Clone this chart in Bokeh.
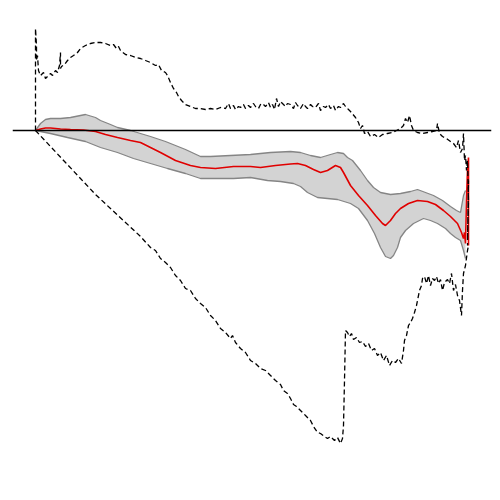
from bokeh.plotting import figure
from bokeh.models import Range1d, Span
from bokeh.embed import file_html
from bokeh.resources import INLINE

# Upper dashed envelope
upper_x = [35,35,36,36,37,38,40,43,45,47,50,52,55,57,59,60,60,61,64,67,70,73,77,80,85,90,95,100,105,110,113,116,118,120,125,130,135,140,145,150,155,158,161,165,167,170,173,176,178,181,185,190,195,200,205,210,215,220,225,228,230,233,235,238,240,243,245,248,250,253,255,258,260,262,265,268,270,272,274,276,278,280,282,285,287,290,293,295,297,300,303,305,307,310,312,315,318,320,323,325,328,330,333,335,338,340,343,345,348,350,355,358,360,362,364,367,370,374,378,382,387,392,396,400,403,405,407,409,411,413,417,422,427,432,436,437,439,442,446,450,453,456,458,460,462,463,464,465,466,467,468,467,468,467]
upper_y = [0,102,85,70,75,60,55,58,52,54,57,55,60,58,65,78,62,64,66,70,73,75,78,82,85,87,88,88,87,85,86,82,84,80,76,75,73,72,70,68,65,66,60,58,55,48,42,38,34,30,26,24,22,22,21,22,21,23,22,27,22,25,21,24,23,26,22,25,23,27,24,22,26,27,24,28,23,26,21,32,24,29,27,24,27,26,22,28,25,22,27,24,22,26,24,23,27,20,24,23,26,22,25,20,24,23,27,24,21,19,13,8,2,5,-3,-1,-6,-4,-7,-4,-3,-2,0,2,5,12,8,15,5,0,-2,-3,-2,-1,0,7,-3,-6,-8,-11,-13,-17,-10,-22,-18,-3,-30,-25,-40,-30,-70,-110,-50,-115]

# Lower dashed envelope
lower_x = [35,50,65,80,95,110,125,140,150,155,160,165,170,175,180,185,190,195,200,205,210,215,220,225,230,232,235,240,245,250,255,260,265,270,275,280,283,287,290,293,296,300,305,310,313,317,320,324,327,330,334,337,340,342,343,344,345,347,349,351,353,356,359,362,365,368,371,374,377,380,383,386,389,392,395,398,401,403,404,406,408,410,412,414,416,418,419,421,422,424,426,428,430,432,434,436,438,440,442,444,447,449,451,453,455,457,459,461,462,463,465,467,468]
lower_y = [0,-16,-32,-48,-64,-78,-92,-106,-117,-120,-128,-132,-137,-145,-150,-158,-160,-168,-173,-177,-185,-190,-198,-202,-208,-205,-212,-218,-222,-230,-233,-238,-240,-245,-250,-254,-260,-263,-268,-274,-276,-280,-285,-290,-296,-302,-303,-306,-308,-306,-310,-307,-313,-308,-295,-250,-200,-202,-206,-203,-209,-207,-212,-211,-216,-213,-220,-218,-225,-222,-230,-225,-235,-230,-232,-228,-233,-220,-210,-205,-195,-192,-188,-182,-175,-165,-160,-155,-148,-146,-153,-145,-155,-148,-150,-146,-153,-149,-160,-152,-149,-153,-143,-160,-154,-165,-170,-185,-160,-143,-135,-120,-115]

# Central estimate (red)
mid_x = [35,40,45,50,60,70,83,95,105,117,130,140,150,160,175,190,200,215,233,250,260,275,290,297,305,313,320,327,335,340,343,350,358,367,375,382,385,390,395,400,408,417,427,435,443,450,457,461,463,464,465,466,467,468,468]
mid_y = [0,1.5,2.5,2.5,1.5,1,0.5,-1,-4,-7,-10,-12,-17,-22,-30,-35,-37,-38,-36,-36,-37,-35,-33.5,-33,-35,-39,-42,-40,-35,-37,-42,-55,-65,-75,-85,-93,-95,-90,-83,-78,-73,-70,-71,-74,-80,-86,-93,-102,-108,-102,-113,-70,-40,-27,-115]

# Confidence band
band_hi_x = [35,40,45,50,60,70,80,85,95,100,110,117,130,150,165,175,185,200,210,230,250,270,290,300,310,320,330,337,343,347,352,360,367,373,380,390,400,410,417,425,433,442,450,456,460,463,465]
band_hi_y = [0,7,11,12,12,13,15,16,13,10,6,3,0,-6,-11,-15,-19,-26,-26,-25,-24,-22,-21,-22,-25,-27,-24,-22,-23,-27,-30,-40,-50,-57,-62,-64,-63,-61,-59,-62,-65,-70,-76,-80,-82,-65,-60]
band_lo_x = [35,50,67,85,100,117,133,150,167,185,200,233,250,267,280,293,300,307,317,327,337,350,358,367,374,380,385,390,393,397,400,405,413,423,430,437,445,450,455,460,463,465]
band_lo_y = [0,-3,-7,-11,-17,-22,-28,-33,-38,-43,-48,-48,-47,-50,-51,-53,-56,-62,-67,-68,-69,-73,-78,-90,-103,-117,-126,-128,-125,-117,-107,-100,-93,-88,-90,-93,-98,-103,-107,-110,-120,-128]

p = figure(width=492, height=492, output_backend="svg", toolbar_location=None,
           x_range=Range1d(12, 491), y_range=Range1d(-362, 122),
           x_axis_location=None, y_axis_location=None,
           min_border_left=12, min_border_right=1, min_border_top=8, min_border_bottom=0)
p.grid.visible = False
p.outline_line_color = None
p.background_fill_color = "white"

p.patch(band_hi_x + band_lo_x[::-1], band_hi_y + band_lo_y[::-1],
        fill_color="#d3d3d3", line_color=None)
p.line(band_hi_x, band_hi_y, line_color="#858585", line_width=1.3)
p.line(band_lo_x, band_lo_y, line_color="#858585", line_width=1.3)
p.line(mid_x, mid_y, line_color="#e00000", line_width=1.6)
p.line(upper_x, upper_y, line_color="black", line_width=1.3, line_dash="5 3")
p.line(lower_x, lower_y, line_color="black", line_width=1.3, line_dash="5 3")

p.add_layout(Span(location=0, dimension="width", line_color="black", line_width=1.5))

open("out.html", "w").write(file_html(p, INLINE))
